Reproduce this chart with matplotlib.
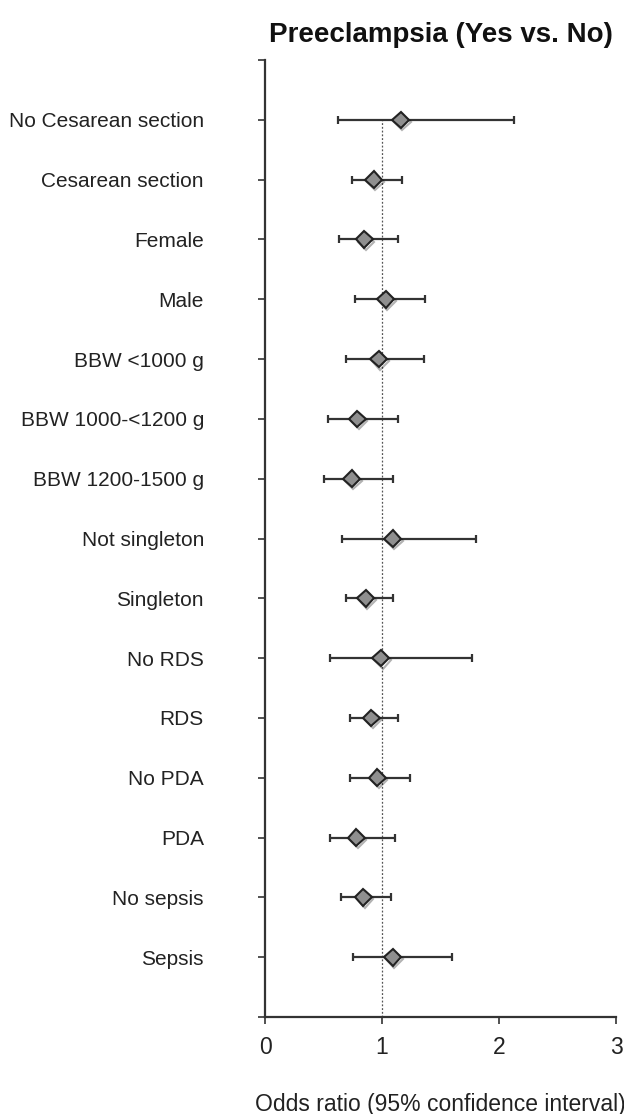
import numpy as np
import matplotlib.pyplot as plt
import matplotlib.patheffects as pe

plt.rcParams['font.family'] = ['Liberation Sans', 'DejaVu Sans']

# --- data (top to bottom) ---
labels = ["No Cesarean section", "Cesarean section", "Female", "Male",
          "BBW <1000 g", "BBW 1000-<1200 g", "BBW 1200-1500 g",
          "Not singleton", "Singleton", "No RDS", "RDS", "No PDA", "PDA",
          "No sepsis", "Sepsis"]
odds = [1.16, 0.93, 0.85, 1.03, 0.97, 0.79, 0.74, 1.09, 0.86, 0.99,
        0.91, 0.96, 0.78, 0.84, 1.09]
ci_low = [0.62, 0.74, 0.63, 0.77, 0.69, 0.54, 0.50, 0.66, 0.69, 0.555,
          0.73, 0.73, 0.555, 0.65, 0.75]
ci_high = [2.13, 1.17, 1.14, 1.37, 1.36, 1.14, 1.09, 1.80, 1.09, 1.77,
           1.14, 1.24, 1.11, 1.08, 1.60]
x_ticks = [0, 1, 2, 3]

fig = plt.figure(figsize=(6.24, 11.14), dpi=100)
ax = fig.add_axes([0.4247, 0.0871, 0.5625, 0.8590])

n = len(labels)
y = np.arange(n, 0, -1)
odds = np.array(odds)
err = [odds - np.array(ci_low), np.array(ci_high) - odds]

# reference line at OR = 1
ax.plot([1, 1], [0, n], color='#555555', linestyle=(0, (1.5, 1.5)), linewidth=0.9, zorder=1)

ax.errorbar(odds, y, xerr=err, fmt='none', ecolor='#333333', elinewidth=1.6,
            capsize=3, capthick=1.6, zorder=2)
ax.plot(odds, y, linestyle='none', marker='D', markersize=8.5,
        markerfacecolor='#8f8f8f', markeredgecolor='#222222', markeredgewidth=1.5,
        zorder=3,
        path_effects=[pe.SimpleLineShadow(offset=(1.2, -1.5), shadow_color='black', alpha=0.3),
                      pe.Normal()])

ax.set_xlim(0, 3)
ax.set_ylim(0, n + 1)
ax.set_xticks(x_ticks)
ax.set_xticklabels([str(t) for t in x_ticks])
ax.set_yticks(list(range(0, n + 2)))
ax.set_yticklabels([''] + labels[::-1] + [''])

for side in ['top', 'right']:
    ax.spines[side].set_visible(False)
for side in ['left', 'bottom']:
    ax.spines[side].set_color('#333333')
    ax.spines[side].set_linewidth(1.6)

ax.tick_params(axis='y', length=5, width=1.2, color='#333333', pad=39,
               labelsize=15, labelcolor='#222222')
ax.tick_params(axis='x', length=5, width=1.2, color='#333333', pad=9,
               labelsize=16.5, labelcolor='#222222')

ax.set_xlabel("Odds ratio (95% confidence interval)", fontsize=16.5,
              color='#222222', labelpad=24)
ax.set_title("Preeclampsia (Yes vs. No)", fontsize=20, fontweight='bold',
             color='#111111', pad=13)

fig.savefig("out.png", dpi=100, facecolor='white')
